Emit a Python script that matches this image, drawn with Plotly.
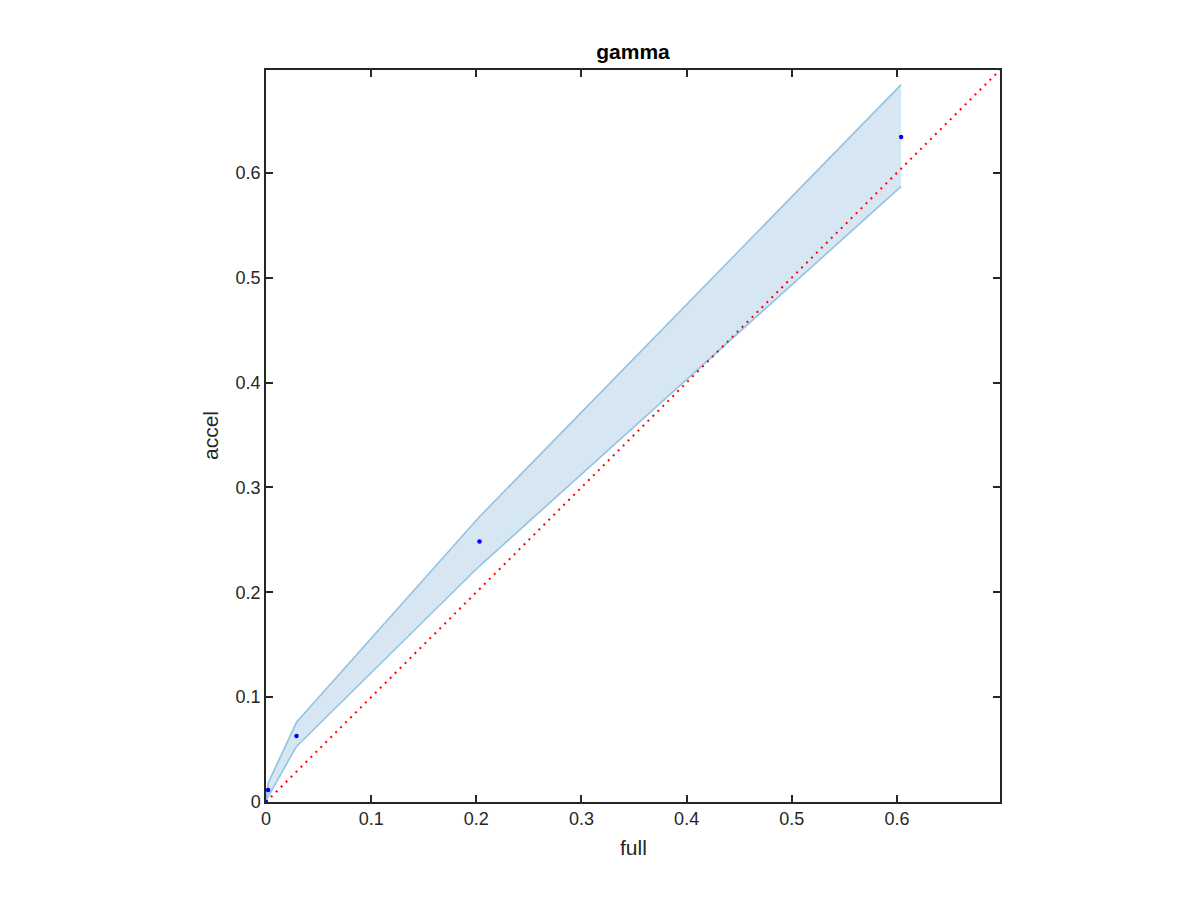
import plotly.graph_objects as go

full = [0.0, 0.002, 0.029, 0.203, 0.604]
accel = [0.0, 0.0115, 0.063, 0.2485, 0.634]
band_upper = [0.0, 0.018, 0.076, 0.272, 0.684]
band_lower = [0.0, 0.005, 0.053, 0.225, 0.587]
axis_max = 0.698
tick_vals = [0, 0.1, 0.2, 0.3, 0.4, 0.5, 0.6]
tick_text = ["0", "0.1", "0.2", "0.3", "0.4", "0.5", "0.6"]

FONT = "Liberation Sans, Arial, sans-serif"

fig = go.Figure()
fig.add_trace(go.Scatter(
    x=full + full[::-1], y=band_upper + band_lower[::-1],
    fill="toself", fillcolor="rgba(214,230,243,1)",
    line=dict(color="rgba(255,255,255,0)", width=0), mode="lines",
    hoverinfo="skip", showlegend=False))
fig.add_trace(go.Scatter(x=full, y=band_upper, mode="lines",
                         line=dict(color="#94c3e4", width=1.6), showlegend=False))
fig.add_trace(go.Scatter(x=full, y=band_lower, mode="lines",
                         line=dict(color="#94c3e4", width=1.6), showlegend=False))
fig.add_trace(go.Scatter(x=[0, axis_max], y=[0, axis_max], mode="lines",
                         line=dict(color="#ff0000", width=2, dash="2px,5px"), showlegend=False))
fig.add_trace(go.Scatter(x=full, y=accel, mode="markers",
                         marker=dict(color="#0000ff", size=4.5), showlegend=False))

axis_common = dict(
    range=[0, axis_max], tickvals=tick_vals, ticktext=tick_text,
    ticks="inside", ticklen=7, tickwidth=1.5, tickcolor="#262626",
    showline=True, linecolor="#262626", linewidth=1.5, mirror="ticks",
    showgrid=False, zeroline=False,
    tickfont=dict(family=FONT, size=18, color="#262626"),
)
fig.update_layout(
    width=1200, height=900,
    margin=dict(l=258, r=208, t=62, b=106),
    paper_bgcolor="white", plot_bgcolor="white",
    title=dict(text="<b>gamma</b>", x=0.5 * (258 + 992) / 1200, xanchor="center",
               y=1 - 44 / 900, yanchor="middle",
               font=dict(family=FONT, size=21, color="black")),
    xaxis=dict(**axis_common),
    yaxis=dict(**axis_common),
    annotations=[
        dict(text="full", xref="paper", yref="paper", x=0.5, y=0, yshift=-45,
             xanchor="center", yanchor="middle", showarrow=False,
             font=dict(family=FONT, size=21, color="#262626")),
        dict(text="accel", xref="paper", yref="paper", x=0, y=0.5, xshift=-56,
             xanchor="center", yanchor="middle", textangle=-90, showarrow=False,
             font=dict(family=FONT, size=21, color="#262626")),
    ],
)
fig.write_html("out.html")
